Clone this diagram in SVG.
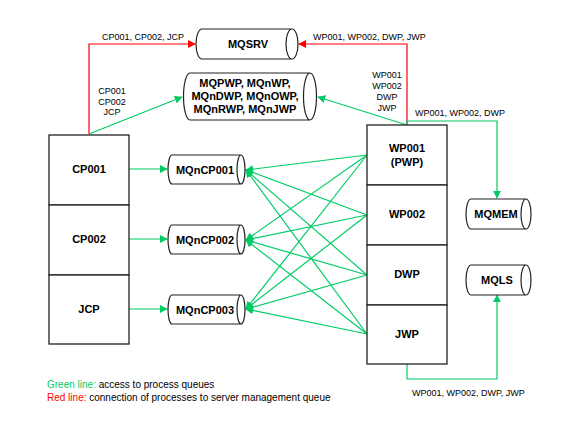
<svg xmlns="http://www.w3.org/2000/svg" width="571" height="430" viewBox="0 0 571 430">
<defs>
<marker id="ag" viewBox="0 0 10 10" refX="9" refY="5" markerWidth="8" markerHeight="8" markerUnits="userSpaceOnUse" orient="auto"><path d="M0,0 L10,5 L0,10 Z" fill="#00cc66"/></marker>
<marker id="ar" viewBox="0 0 10 10" refX="9" refY="5" markerWidth="8" markerHeight="8" markerUnits="userSpaceOnUse" orient="auto"><path d="M0,0 L10,5 L0,10 Z" fill="#ff0000"/></marker>
<style>
.box{fill:#fff;stroke:#222;stroke-width:1.3}
.cyl{fill:#fff;stroke:#222;stroke-width:1.2}
.nl{font-family:"Liberation Sans",Arial,sans-serif;font-size:11px;font-weight:bold;fill:#000;text-anchor:middle}
.lb{font-family:"Liberation Sans",Arial,sans-serif;font-size:9px;fill:#000}
.lg{font-family:"Liberation Sans",Arial,sans-serif;font-size:10px;fill:#000}
.g{fill:none;stroke:#00cc66;stroke-width:1.2}
.gm{marker-end:url(#ag)}
.r{fill:none;stroke:#ff0000;stroke-width:1.2;marker-end:url(#ar)}
</style>
</defs>
<rect width="571" height="430" fill="#fff"/>

<g id="connectors">
<path class="r" d="M89,134 V44 H195"/>
<path class="r" d="M407,125 V44 H299"/>
<path class="g gm" d="M89,134 L182,97"/>
<path class="g gm" d="M407,125 L318,97"/>
<path class="g gm" d="M407,125 V121 H497 V198"/>
<path class="g gm" d="M407,364 V379 H497 V295"/>
<path class="g gm" d="M129,169 H167"/>
<path class="g gm" d="M129,239 H167"/>
<path class="g gm" d="M129,309 H167"/>
<path class="g gm" d="M367,155 L246,170"/>
<path class="g gm" d="M367,155 L246,240"/>
<path class="g gm" d="M367,155 L246,309"/>
<path class="g gm" d="M367,215 L246,170"/>
<path class="g gm" d="M367,215 L246,240"/>
<path class="g gm" d="M367,215 L246,309"/>
<path class="g gm" d="M367,275 L246,170"/>
<path class="g gm" d="M367,275 L246,240"/>
<path class="g gm" d="M367,275 L246,309"/>
<path class="g gm" d="M367,334 L246,170"/>
<path class="g gm" d="M367,334 L246,240"/>
<path class="g gm" d="M367,334 L246,309"/>
</g>

<g id="labels">
<text class="lb" x="102" y="40">CP001, CP002, JCP</text>
<text class="lb" x="313" y="40">WP001, WP002, DWP, JWP</text>
<text class="lb" text-anchor="middle" x="112" y="94">CP001</text>
<text class="lb" text-anchor="middle" x="112" y="104.5">CP002</text>
<text class="lb" text-anchor="middle" x="112" y="115">JCP</text>
<text class="lb" text-anchor="middle" x="387" y="78">WP001</text>
<text class="lb" text-anchor="middle" x="387" y="89">WP002</text>
<text class="lb" text-anchor="middle" x="387" y="100">DWP</text>
<text class="lb" text-anchor="middle" x="387" y="111">JWP</text>
<text class="lb" x="415" y="116">WP001, WP002, DWP</text>
<text class="lb" x="412" y="396">WP001, WP002, DWP, JWP</text>
</g>

<g id="cp-group">
<g id="CP001"><rect class="box" x="49" y="135" width="80" height="70"/><text class="nl" x="89" y="173">CP001</text></g>
<g id="CP002"><rect class="box" x="49" y="205" width="80" height="70"/><text class="nl" x="89" y="243">CP002</text></g>
<g id="JCP"><rect class="box" x="49" y="275" width="80" height="69"/><text class="nl" x="89" y="313">JCP</text></g>
</g>

<g id="wp-group">
<g id="WP001"><rect class="box" x="367" y="125" width="80" height="60"/><text class="nl" x="407" y="152">WP001</text><text class="nl" x="407" y="166">(PWP)</text></g>
<g id="WP002"><rect class="box" x="367" y="185" width="80" height="60"/><text class="nl" x="407" y="218">WP002</text></g>
<g id="DWP"><rect class="box" x="367" y="245" width="80" height="60"/><text class="nl" x="407" y="278">DWP</text></g>
<g id="JWP"><rect class="box" x="367" y="305" width="80" height="59"/><text class="nl" x="407" y="338">JWP</text></g>
</g>

<g id="MQSRV">
<path class="cyl" d="M202,29 H292 A6,15 0 0 1 292,59 H202 A6,15 0 0 1 202,29 Z M292,29 A6,15 0 0 0 292,59"/>
<text class="nl" x="248" y="48">MQSRV</text>
</g>

<g id="MQWP">
<path class="cyl" d="M190,73 H310 A6.5,23.5 0 0 1 310,120 H190 A6.5,23.5 0 0 1 190,73 Z M310,73 A6.5,23.5 0 0 0 310,120"/>
<text class="nl" x="245" y="87">MQPWP, MQnWP,</text>
<text class="nl" x="245" y="100">MQnDWP, MQnOWP,</text>
<text class="nl" x="245" y="113">MQnRWP, MQnJWP</text>
</g>

<g id="MQnCP001">
<path class="cyl" d="M172,155 H241 A4,14.5 0 0 1 241,184 H172 A4,14.5 0 0 1 172,155 Z M241,155 A4,14.5 0 0 0 241,184"/>
<text class="nl" x="205" y="173.5">MQnCP001</text>
</g>
<g id="MQnCP002">
<path class="cyl" d="M172,225 H241 A4,14.5 0 0 1 241,254 H172 A4,14.5 0 0 1 172,225 Z M241,225 A4,14.5 0 0 0 241,254"/>
<text class="nl" x="205" y="243.5">MQnCP002</text>
</g>
<g id="MQnCP003">
<path class="cyl" d="M172,295 H241 A4,14.5 0 0 1 241,324 H172 A4,14.5 0 0 1 172,295 Z M241,295 A4,14.5 0 0 0 241,324"/>
<text class="nl" x="205" y="313.5">MQnCP003</text>
</g>

<g id="MQMEM">
<path class="cyl" d="M471,199 H526 A5,15 0 0 1 526,229 H471 A5,15 0 0 1 471,199 Z M526,199 A5,15 0 0 0 526,229"/>
<text class="nl" x="496" y="218">MQMEM</text>
</g>
<g id="MQLS">
<path class="cyl" d="M471,265 H526 A5,15 0 0 1 526,295 H471 A5,15 0 0 1 471,265 Z M526,265 A5,15 0 0 0 526,295"/>
<text class="nl" x="497" y="284">MQLS</text>
</g>

<g id="legend">
<text class="lg" x="47" y="388"><tspan fill="#00cc66">Green line:</tspan> access to process queues</text>
<text class="lg" x="47" y="401"><tspan fill="#ff0000">Red line:</tspan> connection of processes to server management queue</text>
</g>
</svg>
